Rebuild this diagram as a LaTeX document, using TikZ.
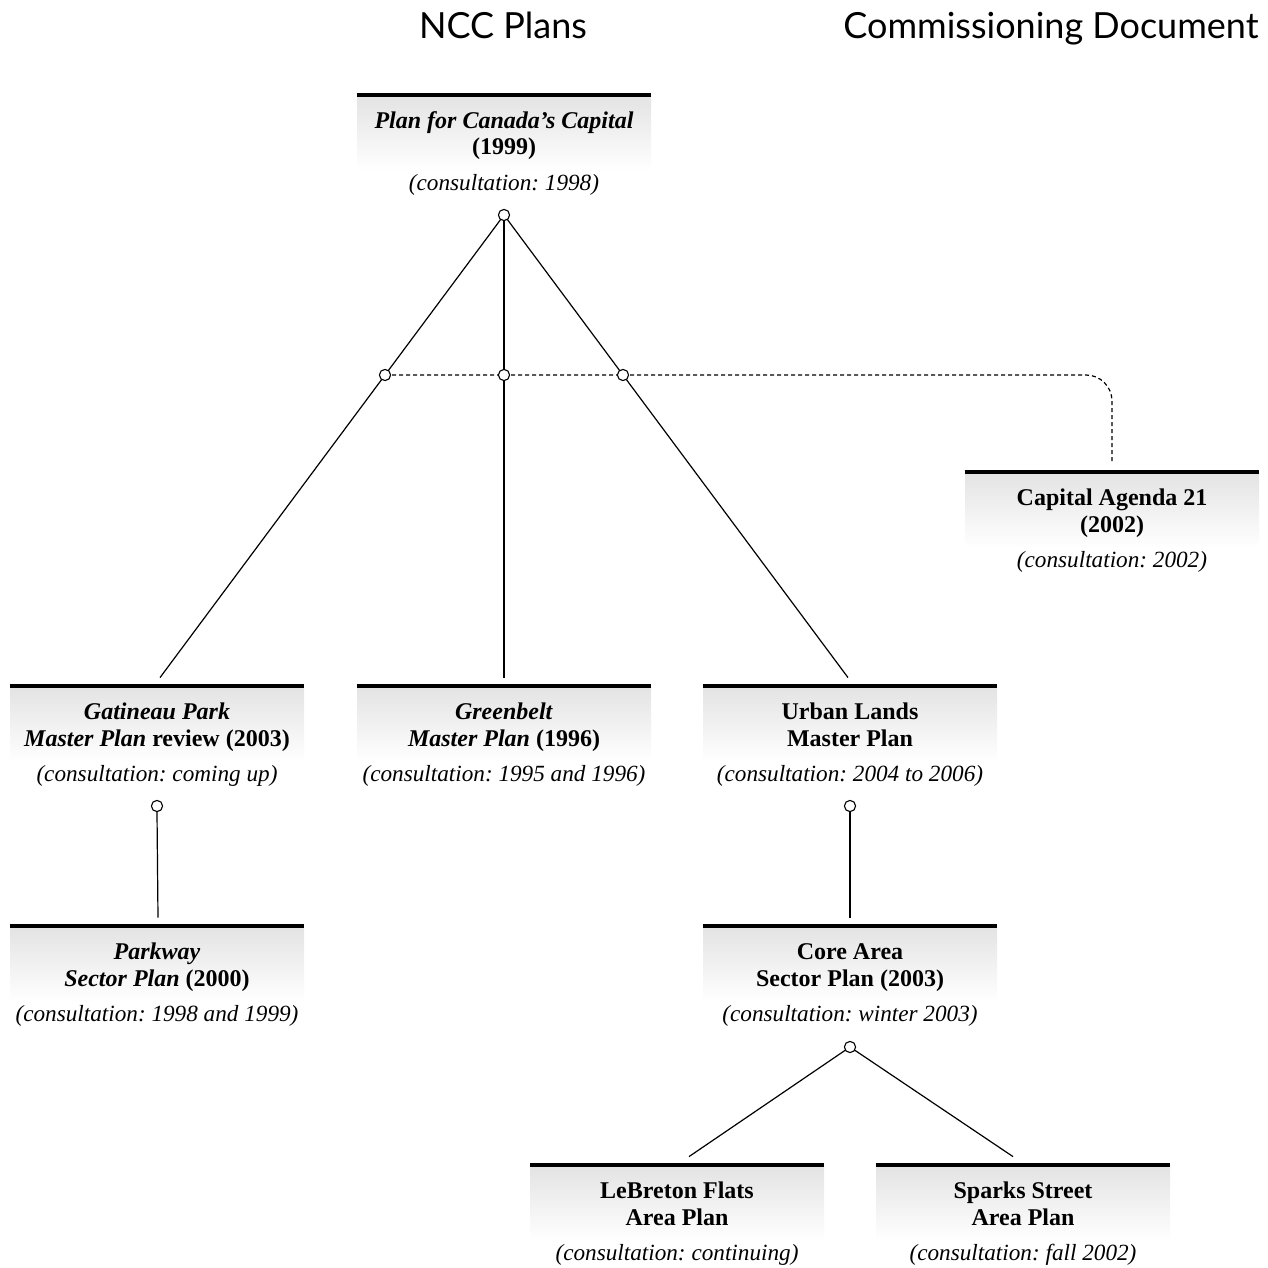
\documentclass[tikz,border=0pt]{standalone}
\usepackage{fontspec}
\setmainfont{Liberation Serif}
\newfontfamily\headfont{Lato}
\usetikzlibrary{backgrounds}
\frenchspacing
\tikzset{
  pbox/.style={rectangle, minimum width=147pt, minimum height=38pt, inner sep=0pt,
    top color=black!11, bottom color=white},
  ptext/.style={inner sep=0pt, align=center, anchor=base, font=\fontsize{12}{13.3}\selectfont\bfseries},
  bar/.style={line width=2pt},
  cons/.style={inner sep=0pt, anchor=base, font=\fontsize{11.6}{13}\selectfont\itshape},
  head/.style={inner sep=0pt, anchor=base, font=\headfont\fontsize{18}{20}\selectfont},
  dot/.style={circle, draw, fill=white, line width=0.55pt, minimum size=5.6pt, inner sep=0pt},
  conn/.style={line width=0.6pt},
  dconn/.style={line width=0.6pt, dash pattern=on 2pt off 1.5pt, rounded corners=13pt}
}
\newcommand\planbox[6]{%
  \node[pbox] (#1) at (#2,#3+38) {};
  \draw[bar] (#1.north west) -- (#1.north east);
  \node[ptext] (#1t) at (#2,#3+60) {#4\\#5};
  \node[cons] (#1c) at (#2,#3+95) {(consultation: #6)};
}
\begin{document}
\begin{tikzpicture}[x=0.5pt,y=-0.5pt]
\useasboundingbox (0,0) rectangle (1268,1268);
\node[head] (h1) at (503,39) {NCC Plans};
\node[head] (h2) at (1051,39) {Commissioning Document};

\planbox{top}{504}{95}{\textit{Plan for Canada’s Capital}}{(1999)}{1998}
\planbox{ag}{1112}{472}{Capital Agenda 21}{(2002)}{2002}
\planbox{gat}{157}{686}{\textit{Gatineau Park}}{\textit{Master Plan} review (2003)}{coming up}
\planbox{gb}{504}{686}{\textit{Greenbelt}}{\textit{Master Plan} (1996)}{1995 and 1996}
\planbox{ul}{850}{686}{Urban Lands}{Master Plan}{2004 to 2006}
\planbox{pw}{157}{926}{\textit{Parkway}}{\textit{Sector Plan} (2000)}{1998 and 1999}
\planbox{core}{850}{926}{Core Area}{Sector Plan (2003)}{winter 2003}
\planbox{leb}{677}{1165}{LeBreton Flats}{Area Plan}{continuing}
\planbox{sp}{1023}{1165}{Sparks Street}{Area Plan}{fall 2002}

\node[dot] (d0) at (504,215) {};
\node[dot] (d1) at (385,375) {};
\node[dot] (d2) at (504,375) {};
\node[dot] (d3) at (623,375) {};
\node[dot] (d4) at (157,806) {};
\node[dot] (d5) at (850,806) {};
\node[dot] (d6) at (850,1047) {};

\begin{pgfonlayer}{background}
\draw[conn] (d0.center) -- ([shift={(3,-8)}]gat.north);
\draw[conn] (d0.center) -- ([shift={(0,-8)}]gb.north);
\draw[conn] (d0.center) -- ([shift={(-2,-8)}]ul.north);
\draw[dconn] (d1.center) -- (1112,375) -- ([shift={(0,-8)}]ag.north);
\draw[conn] (d4.south) -- ([shift={(1,-8)}]pw.north);
\draw[conn] (d5.south) -- ([shift={(0,-8)}]core.north);
\draw[conn] (d6.center) -- ([shift={(12,-8)}]leb.north);
\draw[conn] (d6.center) -- ([shift={(-10,-8)}]sp.north);
\end{pgfonlayer}
\end{tikzpicture}
\end{document}
